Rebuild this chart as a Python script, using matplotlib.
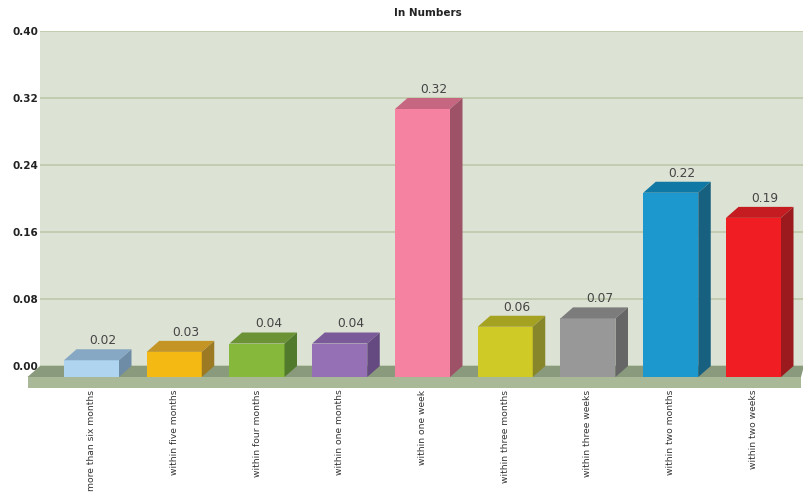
import matplotlib
matplotlib.use('Agg')
import matplotlib.pyplot as plt
from matplotlib.patches import Polygon

categories = ['more than six months', 'within five months', 'within four months',
              'within one months', 'within one week', 'within three months',
              'within three weeks', 'within two months', 'within two weeks']
values = [0.02, 0.03, 0.04, 0.04, 0.32, 0.06, 0.07, 0.22, 0.19]
yticks = [0.00, 0.08, 0.16, 0.24, 0.32, 0.40]

front_colors = ['#aed4f0', '#f5b914', '#86b83c', '#9570b4', '#f482a0',
                '#cfca26', '#989898', '#1c98cf', '#f01e22']
top_colors = ['#86a8c4', '#c49524', '#6b9235', '#7a5a98', '#c76680',
              '#a5a222', '#7c7c7c', '#0f78a4', '#c41c20']
side_colors = ['#6f8ca6', '#9c7a24', '#527a2c', '#644a80', '#9e5268',
               '#87862a', '#666666', '#17607f', '#9a1a1e']

W, H = 804, 492
fig = plt.figure(figsize=(W / 100, H / 100), dpi=100)
ax = fig.add_axes([40 / W, 1 - 366 / H, (W - 40) / W, 335 / H])

# one category = 82.75 px, 0.40 = 335 px
px_x = 1 / 82.75
px_y = 0.40 / 335
dx = 12.5 * px_x
dy = 11 * px_y
bar_w = 55 * px_x

ax.set_xlim(-51.5 * px_x, (W - 91.5) * px_x)
ax.set_ylim(0, 0.40)
ax.set_facecolor('#dce2d4')
for s in ax.spines.values():
    s.set_visible(False)

ax.set_yticks(yticks)
ax.set_yticklabels(['%.2f' % v for v in yticks], fontsize=7.5, fontweight='bold', color='#222222')
ax.tick_params(axis='y', length=0, pad=1.5)
ax.grid(axis='y', color='#b9c6a6', linewidth=1.1)
ax.set_axisbelow(True)

# floor of the chart
x0, x1 = ax.get_xlim()
ax.add_patch(Polygon([(x0 - dx, -dy), (x0, 0), (x1, 0), (x1 - 3 * px_x, -dy)],
                     facecolor='#8a9a7c', edgecolor='none', clip_on=False, zorder=2))
ax.add_patch(Polygon([(x0 - dx, -dy), (x1 - 3 * px_x, -dy), (x1 - 3 * px_x, -2 * dy), (x0 - dx, -2 * dy)],
                     facecolor='#a9b896', edgecolor='none', clip_on=False, zorder=2))

for i, v in enumerate(values):
    left = i - bar_w / 2
    right = i + bar_w / 2
    ax.bar(i, v, width=bar_w, bottom=-dy, color=front_colors[i], clip_on=False, zorder=3)
    ax.add_patch(Polygon([(left, v - dy), (right, v - dy), (right + dx, v), (left + dx, v)],
                         facecolor=top_colors[i], edgecolor='none', clip_on=False, zorder=3))
    ax.add_patch(Polygon([(right, -dy), (right + dx, 0), (right + dx, v), (right, v - dy)],
                         facecolor=side_colors[i], edgecolor='none', clip_on=False, zorder=3))
    ax.annotate('%.2f' % v, (i + dx - 1 * px_x, v), xytext=(0, 1.5), textcoords='offset points',
                ha='center', va='bottom', fontsize=8.8, color='#444444', zorder=4)

ax.set_xticks(range(len(categories)))
ax.set_xticklabels(categories, rotation=90, fontsize=6.6, color='#333333', va='top', ha='center')
ax.tick_params(axis='x', length=0, pad=17)

fig.text(428 / W, 1 - 13.5 / H, 'In Numbers', fontsize=7.5, fontweight='bold', ha='center', va='center', color='#222222')

fig.savefig('out.png', dpi=100)
